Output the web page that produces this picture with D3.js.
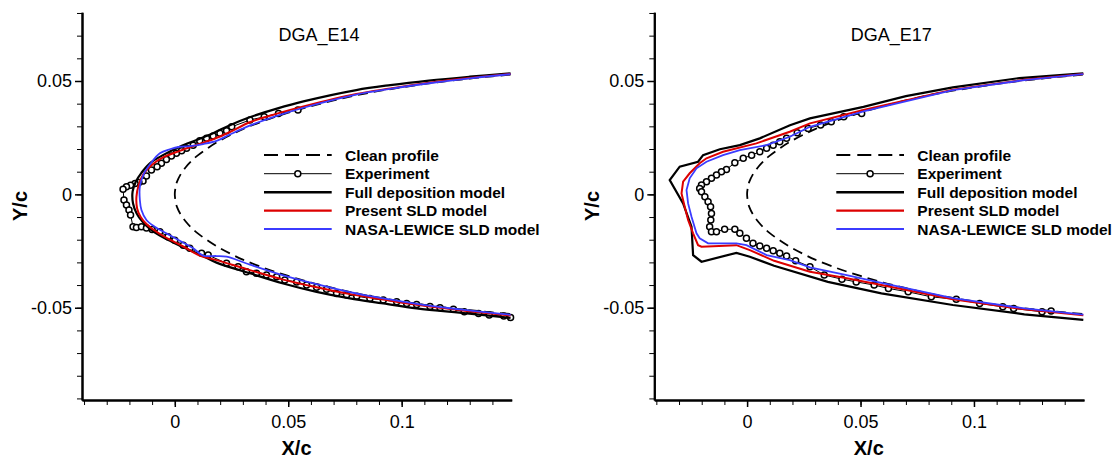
<!DOCTYPE html>
<html><head><meta charset="utf-8">
<script src="https://cdn.jsdelivr.net/npm/d3@7/dist/d3.min.js"></script>
<style>
body{margin:0;background:#fff}
svg{display:block}
text{font-family:"Liberation Sans",Arial,Helvetica,sans-serif;fill:#000}
</style>
</head><body>
<svg id="chart" width="1120" height="458"></svg>
<script>
// ---------- data ----------
const panelTitles = ["DGA_E14", "DGA_E17"];
const legendLabels = ["Clean profile", "Experiment", "Full deposition model", "Present SLD model", "NASA-LEWICE SLD model"];
const xTickLabels = [0, 0.05, 0.1];
const yTickLabels = [-0.05, 0, 0.05];
const xMinorTicks = [-0.04,-0.03,-0.02,-0.01,0,0.01,0.02,0.03,0.04,0.05,0.06,0.07,0.08,0.09,0.1,0.11,0.12,0.13,0.14];
const yMinorTicks = [-0.09,-0.08,-0.07,-0.06,-0.05,-0.04,-0.03,-0.02,-0.01,0,0.01,0.02,0.03,0.04,0.05,0.06,0.07,0.08];

// clean profile (upper TE -> LE -> lower TE)
const cleanProfile = [
 [0.148,0.0528],[0.14,0.0521],[0.13,0.0511],[0.12,0.0500],[0.11,0.0487],[0.10,0.0472],[0.09,0.0456],[0.08,0.0437],
 [0.07,0.0414],[0.06,0.0389],[0.05,0.0360],[0.04,0.0327],[0.03,0.0288],[0.025,0.0264],[0.02,0.0238],[0.015,0.0207],
 [0.01,0.0171],[0.0075,0.0149],[0.005,0.0122],[0.0025,0.0087],[0.001,0.0056],[0.0005,0.0039],[0,0],
 [0.0005,-0.0039],[0.001,-0.0056],[0.0025,-0.0087],[0.005,-0.0122],[0.0075,-0.0149],[0.01,-0.0171],[0.015,-0.0207],
 [0.02,-0.0238],[0.025,-0.0264],[0.03,-0.0288],[0.04,-0.0327],[0.05,-0.0360],[0.06,-0.0389],[0.07,-0.0414],
 [0.08,-0.0437],[0.09,-0.0456],[0.10,-0.0472],[0.11,-0.0487],[0.12,-0.0500],[0.13,-0.0511],[0.14,-0.0521],[0.148,-0.0528]
];

// DGA_E14
const e14Full = [
 [0.148,0.0534],[0.13,0.0519],[0.112,0.0502],[0.095,0.0482],[0.08,0.0460],[0.0567,0.0410],[0.045,0.0378],
 [0.033,0.0340],[0.0243,0.0305],[0.0169,0.0270],[0.0096,0.0240],[0.0022,0.0210],[-0.0052,0.0173],[-0.011,0.0137],
 [-0.0147,0.0095],[-0.0172,0.0056],[-0.0186,0.0012],[-0.0184,-0.004],[-0.0168,-0.0084],[-0.0142,-0.0121],
 [-0.011,-0.0152],[-0.0066,-0.0182],[-0.0007,-0.0212],[0.0052,-0.0240],[0.011,-0.0265],[0.0184,-0.0301],
 [0.0331,-0.0348],[0.0478,-0.0393],[0.0625,-0.0430],[0.0772,-0.0459],[0.0919,-0.0481],[0.1066,-0.0503],
 [0.1287,-0.0525],[0.148,-0.0545]
];
const e14Present = [
 [0.148,0.0531],[0.13,0.0513],[0.112,0.0492],[0.095,0.0467],[0.08,0.0443],[0.0567,0.0388],[0.045,0.0356],
 [0.033,0.0318],[0.0243,0.0275],[0.0169,0.0243],[0.0096,0.0218],[0.0022,0.0192],[-0.0052,0.0163],[-0.0103,0.0128],
 [-0.014,0.0086],[-0.0159,0.0041],[-0.0169,-0.001],[-0.0166,-0.0062],[-0.0151,-0.0099],[-0.0125,-0.0131],
 [-0.0081,-0.0165],[-0.0022,-0.0200],[0.0037,-0.0230],[0.011,-0.0270],[0.0184,-0.0290],[0.0331,-0.0334],
 [0.0478,-0.0376],[0.0625,-0.0410],[0.0772,-0.0440],[0.0919,-0.0464],[0.1066,-0.0487],[0.1287,-0.0514],[0.148,-0.0534]
];
const e14Lewice = [
 [0.148,0.0530],[0.13,0.0512],[0.112,0.0490],[0.095,0.0465],[0.08,0.0440],[0.0567,0.0382],[0.045,0.0346],
 [0.033,0.0303],[0.0243,0.0264],[0.0184,0.0236],[0.0125,0.0222],[0.0066,0.0213],[0.0022,0.0210],[-0.0022,0.0199],
 [-0.0066,0.0181],[-0.0105,0.0138],[-0.0138,0.0087],[-0.0154,0.0034],[-0.0154,-0.0025],[-0.0147,-0.0069],
 [-0.0125,-0.0113],[-0.0088,-0.0143],[-0.0037,-0.0172],[0.0022,-0.0205],[0.0081,-0.0238],[0.0125,-0.0270],
 [0.0184,-0.0272],[0.0228,-0.0275],[0.0331,-0.0310],[0.0478,-0.0357],[0.0625,-0.0396],[0.0772,-0.0431],
 [0.0919,-0.0459],[0.1066,-0.0483],[0.1287,-0.0511],[0.148,-0.0531]
];
const e14Experiment = [
 [0.0543,0.0372],[0.0457,0.0357],[0.0394,0.0342],[0.0331,0.0328],[0.0251,0.0298],[0.0228,0.0281],[0.0199,0.0269],
 [0.0169,0.0257],[0.014,0.0247],[0.011,0.0236],[0.0081,0.0217],[0.0052,0.0203],[0.003,0.0192],[0.0007,0.0181],
 [-0.0015,0.0169],[-0.0037,0.0154],[-0.0059,0.0137],[-0.0078,0.0122],[-0.0103,0.0107],[-0.0125,0.0081],
 [-0.014,0.0059],[-0.0158,0.0052],[-0.0175,0.0048],[-0.0195,0.0040],[-0.0213,0.0034],[-0.0228,0.0022],
 [-0.0224,-0.0025],[-0.0213,-0.0047],[-0.0202,-0.0069],[-0.0195,-0.0091],[-0.0184,-0.0143],[-0.0169,-0.0146],
 [-0.0147,-0.0143],[-0.0125,-0.0148],[-0.0100,-0.0155],[-0.0066,-0.0165],[-0.003,-0.0187],[0,-0.0202],
 [0.0037,-0.0224],[0.0066,-0.0238],[0.0118,-0.026],[0.0147,-0.0268],[0.0228,-0.0304],[0.0279,-0.0319],
 [0.0316,-0.0341],[0.036,-0.0348],[0.0404,-0.0356],[0.0449,-0.0363],[0.0485,-0.0378],[0.0537,-0.0386],
 [0.0581,-0.04],[0.0625,-0.041],[0.0669,-0.0419],[0.0713,-0.0437],[0.0757,-0.0444],[0.0802,-0.0449],
 [0.086,-0.0459],[0.0919,-0.0466],[0.0978,-0.0474],[0.1022,-0.0481],[0.1066,-0.0486],[0.1125,-0.0495],
 [0.1169,-0.0500],[0.1228,-0.0507],[0.1276,-0.0518],[0.1339,-0.0525],[0.1386,-0.0532],[0.145,-0.0537],[0.148,-0.0543]
];

// DGA_E17
const e17Full = [
 [0.1482,0.0534],[0.12,0.0513],[0.0907,0.0472],[0.07,0.0433],[0.0513,0.0386],[0.0277,0.0335],[0.0189,0.0305],
 [0.0056,0.0247],[-0.0032,0.0217],[-0.012,0.0199],[-0.0194,0.0173],[-0.0216,0.0144],[-0.0297,0.0122],
 [-0.0341,0.0063],[-0.0282,-0.0040],[-0.0245,-0.0143],[-0.0238,-0.0268],[-0.0201,-0.0297],[-0.0047,-0.0258],
 [0.0012,-0.0275],[0.0119,-0.0315],[0.0356,-0.0386],[0.0592,-0.0437],[0.0907,-0.0488],[0.1222,-0.0529],[0.1482,-0.0554]
];
const e17Present = [
 [0.1482,0.0531],[0.1222,0.0505],[0.0907,0.0462],[0.0513,0.0372],[0.0277,0.0313],[0.0188,0.0276],[0.0041,0.0225],
 [-0.0106,0.0188],[-0.0179,0.0159],[-0.0209,0.0137],[-0.0253,0.0093],[-0.0282,0.0056],[-0.0289,0.0004],
 [-0.0275,-0.0055],[-0.0260,-0.0113],[-0.0238,-0.0172],[-0.0216,-0.0224],[-0.0201,-0.0231],[-0.0047,-0.0224],
 [0.0012,-0.0246],[0.0119,-0.0293],[0.0277,-0.0341],[0.0434,-0.0369],[0.0592,-0.0400],[0.0907,-0.0463],
 [0.1222,-0.0507],[0.1482,-0.0533]
];
const e17Lewice = [
 [0.1482,0.0530],[0.1222,0.0504],[0.0907,0.0460],[0.0513,0.0366],[0.0277,0.0298],[0.0188,0.0254],[0.0086,0.0217],
 [-0.0032,0.0195],[-0.0106,0.0173],[-0.0179,0.0144],[-0.0223,0.0115],[-0.0253,0.0071],[-0.0267,0.0019],
 [-0.0260,-0.0040],[-0.0245,-0.0099],[-0.0223,-0.0172],[-0.0209,-0.0194],[-0.0172,-0.0216],[-0.0047,-0.0216],
 [-0.0003,-0.0224],[0.0086,-0.0268],[0.0188,-0.0290],[0.0277,-0.0322],[0.0434,-0.0355],[0.0592,-0.0390],
 [0.0907,-0.0458],[0.1222,-0.0503],[0.1482,-0.0530]
];
const e17Experiment = [
 [0.0505,0.0357],[0.0426,0.0342],[0.0371,0.0320],[0.0324,0.0306],[0.0269,0.0291],[0.0221,0.0272],[0.0174,0.0247],
 [0.0144,0.0232],[0.0115,0.0217],[0.0086,0.0203],[0.0056,0.0188],[0.0020,0.0173],[-0.0017,0.0159],[-0.0054,0.0139],
 [-0.0091,0.0110],[-0.0113,0.0100],[-0.0135,0.0085],[-0.0157,0.0071],[-0.0179,0.0056],[-0.0201,0.0041],
 [-0.0209,0.0026],[-0.0201,0.0011],[-0.0186,-0.0011],[-0.0172,-0.0033],[-0.0161,-0.0055],[-0.0157,-0.0084],
 [-0.0160,-0.0113],[-0.0165,-0.0143],[-0.0157,-0.0165],[-0.0135,-0.0165],[-0.0099,-0.0154],[-0.0054,-0.0154],
 [-0.0032,-0.0172],[-0.0003,-0.0194],[0.0026,-0.0216],[0.0056,-0.0228],[0.0086,-0.0238],[0.0115,-0.0249],
 [0.0144,-0.0260],[0.0174,-0.0272],[0.0214,-0.0293],[0.0277,-0.0319],[0.0340,-0.0356],[0.0418,-0.0374],
 [0.0481,-0.0386],[0.0560,-0.0400],[0.0623,-0.0415],[0.0710,-0.0430],[0.0812,-0.0452],[0.0922,-0.0463],
 [0.1025,-0.0481],[0.1127,-0.0496],[0.1175,-0.0503],[0.1300,-0.0518],[0.1340,-0.0515]
];

// ---------- drawing ----------
const svg = d3.select("#chart");
const colors = {clean:"#000", exp:"#000", full:"#000", present:"#dd0000", lewice:"#3b3bff"};

const panels = [
  {ox:0, title:panelTitles[0], full:e14Full, present:e14Present, lewice:e14Lewice, exp:e14Experiment, smooth:true},
  {ox:572.3, title:panelTitles[1], full:e17Full, present:e17Present, lewice:e17Lewice, exp:e17Experiment, smooth:false}
];

panels.forEach(p => {
  const g = svg.append("g").attr("transform", `translate(${p.ox},0)`);
  const x = d3.scaleLinear().domain([-0.0409, 0.1485]).range([82, 511.7]);
  const y = d3.scaleLinear().domain([-0.0907, 0.0803]).range([400, 12.3]);

  const xMinor = d3.axisBottom(x).tickValues(xMinorTicks).tickSize(5).tickSizeOuter(0).tickFormat("");
  const xMajor = d3.axisBottom(x).tickValues(xTickLabels).tickSize(7).tickSizeOuter(0).tickPadding(8).tickFormat(d => String(d));
  const yMinor = d3.axisLeft(y).tickValues(yMinorTicks).tickSize(5).tickSizeOuter(0).tickFormat("");
  const yMajor = d3.axisLeft(y).tickValues(yTickLabels).tickSize(7).tickSizeOuter(0).tickPadding(3).tickFormat(d => String(d));

  [xMinor, xMajor].forEach((ax, i) => {
    const a = g.append("g").attr("transform", "translate(0,400)").call(ax);
    a.select(".domain").attr("stroke-width", 2).attr("stroke", "#000");
    a.selectAll(".tick line").attr("stroke", "#000").attr("stroke-width", i ? 1.5 : 1);
    a.selectAll(".tick text").attr("font-size", 18).attr("font-family", '"Liberation Sans",Arial,sans-serif');
  });
  [yMinor, yMajor].forEach((ax, i) => {
    const a = g.append("g").attr("transform", "translate(82,0)").call(ax);
    a.select(".domain").attr("stroke-width", 2).attr("stroke", "#000");
    a.selectAll(".tick line").attr("stroke", "#000").attr("stroke-width", i ? 1.5 : 1);
    a.selectAll(".tick text").attr("font-size", 18).attr("font-family", '"Liberation Sans",Arial,sans-serif');
  });

  g.append("text").attr("x", 296.5).attr("y", 455).attr("text-anchor", "middle")
    .attr("font-size", 20).attr("font-weight", "bold").text("X/c");
  g.append("text").attr("transform", "translate(27,206) rotate(-90)").attr("text-anchor", "middle")
    .attr("font-size", 20).attr("font-weight", "bold").text("Y/c");

  g.append("text").attr("x", 319).attr("y", 40.5).attr("text-anchor", "middle")
    .attr("font-size", 18).text(p.title);

  const lineSmooth = d3.line().x(d => x(d[0])).y(d => y(d[1])).curve(d3.curveCatmullRom.alpha(0.5));
  const lineLin = d3.line().x(d => x(d[0])).y(d => y(d[1]));
  const mline = p.smooth ? lineSmooth : lineLin;

  const plot = g.append("g");
  plot.append("path").attr("d", lineSmooth(cleanProfile)).attr("fill", "none")
    .attr("stroke", colors.clean).attr("stroke-width", 1.8).attr("stroke-dasharray", "10,6");

  plot.append("path").attr("d", lineLin(p.exp)).attr("fill", "none").attr("stroke", "#000").attr("stroke-width", 1);
  plot.selectAll("circle.exp").data(p.exp).enter().append("circle").attr("class", "exp")
    .attr("cx", d => x(d[0])).attr("cy", d => y(d[1])).attr("r", 3)
    .attr("fill", "#fff").attr("stroke", "#000").attr("stroke-width", 1.5);

  plot.append("path").attr("d", mline(p.full)).attr("fill", "none").attr("stroke", colors.full).attr("stroke-width", 2.2);
  plot.append("path").attr("d", mline(p.present)).attr("fill", "none").attr("stroke", colors.present).attr("stroke-width", 2);
  plot.append("path").attr("d", mline(p.lewice)).attr("fill", "none").attr("stroke", colors.lewice).attr("stroke-width", 1.8);

  const lg = g.append("g");
  const rows = [155, 173.7, 192.3, 210.7, 229];
  const styles = [
    {stroke:"#000", w:2, dash:"14,7"},
    {stroke:"#000", w:1, dash:null, marker:true},
    {stroke:"#000", w:2.4, dash:null},
    {stroke:colors.present, w:2.2, dash:null},
    {stroke:colors.lewice, w:2, dash:null}
  ];
  legendLabels.forEach((lab, i) => {
    const s = styles[i];
    const ln = lg.append("line").attr("x1", 264).attr("x2", 331.7).attr("y1", rows[i]).attr("y2", rows[i])
      .attr("stroke", s.stroke).attr("stroke-width", s.w);
    if (s.dash) ln.attr("stroke-dasharray", s.dash);
    if (s.marker) lg.append("circle").attr("cx", 297.8).attr("cy", rows[i]).attr("r", 3)
      .attr("fill", "#fff").attr("stroke", "#000").attr("stroke-width", 1.5);
    lg.append("text").attr("x", 345).attr("y", rows[i] + 5.6).attr("font-size", 15.5)
      .attr("font-weight", "bold").text(lab);
  });
});
</script>
</body></html>
